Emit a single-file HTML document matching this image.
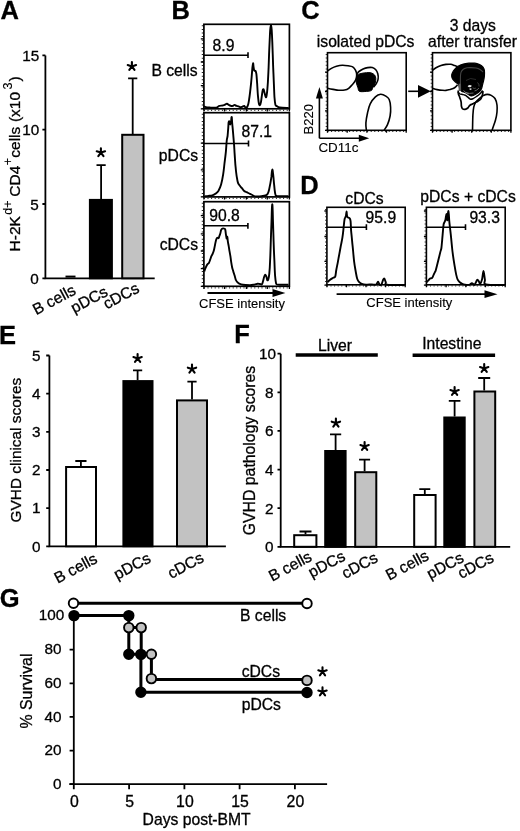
<!DOCTYPE html>
<html><head><meta charset="utf-8">
<style>html,body{margin:0;padding:0;background:#fff;width:520px;height:831px;overflow:hidden}svg{display:block;filter:grayscale(1)}text{font-family:"Liberation Sans",sans-serif;fill:#000;stroke:#000;stroke-width:0.3px;font-size:15.7px}.lb{font-weight:bold;font-size:25.5px}.st{font-weight:bold;font-size:27px;text-anchor:middle}.tk{font-size:15.3px;text-anchor:end}.sm{font-size:13px}</style></head><body>
<svg width="520" height="831" viewBox="0 0 520 831">
<rect width="520" height="831" fill="#fff"/>
<text x="0.5" y="19.0" class="lb">A</text>
<path d="M45.4 55.4V278.3H154.7" stroke="#000" stroke-width="1.8" fill="none"/>
<path d="M42.4 55.4H45.4M42.4 129.6H45.4M42.4 204H45.4M42.4 278.3H45.4" stroke="#000" stroke-width="1.8" fill="none"/>
<text class="tk" x="39.2" y="61.1">15</text>
<text class="tk" x="39.2" y="135.3">10</text>
<text class="tk" x="38.8" y="209.7">5</text>
<text class="tk" x="38.8" y="284.0">0</text>
<rect x="65.5" y="275.6" width="10" height="2" fill="#000"/>
<rect x="89.9" y="199.9" width="22.0" height="78.4" fill="#000" stroke="#000" stroke-width="2.0"/>
<rect x="122.2" y="134.8" width="21.3" height="143.5" fill="#c2c2c2" stroke="#000" stroke-width="2.0"/>
<path d="M101.1 199.0V165.2M96.5 165.2H105.7" stroke="#000" stroke-width="1.8" fill="none"/>
<path d="M132.7 134.0V78.3M128.1 78.3H137.3" stroke="#000" stroke-width="1.8" fill="none"/>
<path d="M100.90 152.62L100.90 148.22M100.90 152.62L105.08 151.26M100.90 152.62L103.49 156.18M100.90 152.62L98.31 156.18M100.90 152.62L96.72 151.26" stroke="#000" stroke-width="2.1" stroke-linecap="round" fill="none"/>
<path d="M131.90 66.42L131.90 62.02M131.90 66.42L136.08 65.06M131.90 66.42L134.49 69.98M131.90 66.42L129.31 69.98M131.90 66.42L127.72 65.06" stroke="#000" stroke-width="2.1" stroke-linecap="round" fill="none"/>
<text transform="translate(77.0,293.5) rotate(-28)" text-anchor="end">B cells</text>
<text transform="translate(109.0,295.0) rotate(-28)" text-anchor="end">pDCs</text>
<text transform="translate(140.5,291.5) rotate(-28)" text-anchor="end">cDCs</text>
<text transform="translate(20.2,251.4) rotate(-90)" style="font-size:15.5px">H-2K</text>
<text transform="translate(11.5,214.7) rotate(-90)" style="font-size:12.5px;stroke-width:0.12px">d+</text>
<text transform="translate(20.2,196.7) rotate(-90)" style="font-size:15.5px">CD4</text>
<text transform="translate(11.5,165.2) rotate(-90)" style="font-size:12.5px;stroke-width:0.12px">+</text>
<text transform="translate(20.2,157.7) rotate(-90)" style="font-size:15.5px">cells</text>
<text transform="translate(20.2,122.1) rotate(-90)" style="font-size:15.5px">(x10</text>
<text transform="translate(11.5,89.5) rotate(-90)" style="font-size:12.5px;stroke-width:0.12px">3</text>
<text transform="translate(20.2,81.4) rotate(-90)" style="font-size:15.5px">)</text>
<text x="171.6" y="18.8" class="lb">B</text>
<text x="197.6" y="75.8" text-anchor="end">B cells</text>
<text x="198.1" y="160.7" text-anchor="end">pDCs</text>
<text x="198.0" y="249.6" text-anchor="end">cDCs</text>
<rect x="203.9" y="24.3" width="85.5" height="84.5" fill="none" stroke="#000" stroke-width="1.7"/>
<path d="M200.8 38.9H203.9M200.8 62.0H203.9M200.8 85.7H203.9M200.8 108.8H203.9M203.9 108.8V111.4M224.5 108.8V111.4M246.4 108.8V111.4M267.3 108.8V111.4M289.4 108.8V111.4" stroke="#000" stroke-width="1.3" fill="none"/>
<path d="M202.4 25.3V108.8" stroke="#000" stroke-width="1.3" fill="none" stroke-dasharray="1 2.6" opacity="0.85"/>
<path d="M203.9 110.3H289.4" stroke="#000" stroke-width="1.3" fill="none" stroke-dasharray="1 2.6" opacity="0.85"/>
<rect x="203.9" y="112.7" width="85.5" height="84.2" fill="none" stroke="#000" stroke-width="1.7"/>
<path d="M200.8 143.1H203.9M200.8 169.9H203.9M200.8 196.9H203.9M203.9 196.9V199.5M224.5 196.9V199.5M246.4 196.9V199.5M267.3 196.9V199.5M289.4 196.9V199.5" stroke="#000" stroke-width="1.3" fill="none"/>
<path d="M202.4 113.7V196.9" stroke="#000" stroke-width="1.3" fill="none" stroke-dasharray="1 2.6" opacity="0.85"/>
<path d="M203.9 198.4H289.4" stroke="#000" stroke-width="1.3" fill="none" stroke-dasharray="1 2.6" opacity="0.85"/>
<rect x="203.9" y="201.7" width="85.5" height="84.6" fill="none" stroke="#000" stroke-width="1.7"/>
<path d="M200.8 215.7H203.9M200.8 233.9H203.9M200.8 251.0H203.9M200.8 268.7H203.9M200.8 286.3H203.9M203.9 286.3V288.9M224.5 286.3V288.9M246.4 286.3V288.9M267.3 286.3V288.9M289.4 286.3V288.9" stroke="#000" stroke-width="1.3" fill="none"/>
<path d="M202.4 202.7V286.3" stroke="#000" stroke-width="1.3" fill="none" stroke-dasharray="1 2.6" opacity="0.85"/>
<path d="M203.9 287.8H289.4" stroke="#000" stroke-width="1.3" fill="none" stroke-dasharray="1 2.6" opacity="0.85"/>
<path d="M203.9 55.2H248M248 52.3V58.1" stroke="#000" stroke-width="1.6" fill="none"/>
<path d="M203.9 143.5H248.5M248.5 140.6V146.4" stroke="#000" stroke-width="1.6" fill="none"/>
<path d="M203.9 225.8H247.9M247.9 222.9V228.7" stroke="#000" stroke-width="1.6" fill="none"/>
<text x="212.6" y="50.8">8.9</text>
<text x="241.5" y="136.7">87.1</text>
<text x="209.2" y="221.0">90.8</text>
<path d="M204.0 106.3 C204.3 106.4 204.9 106.9 205.8 107.1 C206.7 107.3 208.2 107.4 209.6 107.5 C211.0 107.6 213.1 107.8 214.4 107.8 C215.7 107.8 216.5 107.6 217.3 107.3 C218.1 107.0 218.2 106.2 219.2 105.9 C220.2 105.6 222.0 105.7 223.1 105.4 C224.2 105.2 224.9 104.7 225.5 104.4 C226.1 104.1 226.3 103.6 226.9 103.7 C227.5 103.8 228.2 104.5 228.8 104.9 C229.5 105.3 230.2 105.7 230.8 105.9 C231.5 106.1 232.1 106.1 232.7 105.9 C233.3 105.7 234.0 104.9 234.6 104.9 C235.2 104.9 235.8 105.7 236.5 105.9 C237.2 106.1 237.8 106.1 238.5 106.3 C239.2 106.5 239.8 107.2 240.4 107.3 C241.0 107.4 241.7 107.0 242.3 106.8 C242.9 106.6 243.6 105.7 244.2 105.9 C244.8 106.1 245.2 107.6 245.7 107.8 C246.2 108.0 246.8 107.5 247.2 106.9 C247.6 106.3 247.9 105.7 248.3 104.1 C248.7 102.5 249.0 100.1 249.4 97.5 C249.8 94.9 250.1 91.9 250.5 88.6 C250.9 85.3 251.3 81.0 251.6 77.5 C251.9 74.0 252.2 70.0 252.4 67.6 C252.7 65.2 252.9 63.4 253.1 63.2 C253.3 63.0 253.3 65.3 253.5 66.5 C253.7 67.7 253.9 69.7 254.2 70.4 C254.5 71.1 255.1 70.3 255.5 70.9 C255.9 71.5 256.1 72.0 256.4 74.2 C256.7 76.4 256.9 80.7 257.2 84.2 C257.4 87.7 257.6 92.2 257.9 95.3 C258.2 98.4 258.5 101.3 258.8 103.0 C259.1 104.7 259.5 105.4 259.9 105.2 C260.3 105.0 260.7 103.6 261.0 101.9 C261.3 100.2 261.6 97.2 261.9 95.3 C262.2 93.4 262.4 91.3 262.7 90.3 C263.0 89.3 263.2 88.9 263.5 89.2 C263.8 89.5 264.0 90.7 264.3 91.9 C264.6 93.1 265.2 95.6 265.5 96.4 C265.8 97.2 266.0 97.7 266.3 96.9 C266.6 96.2 266.8 94.4 267.1 91.9 C267.4 89.4 267.6 86.0 267.9 82.0 C268.1 78.0 268.4 72.4 268.6 67.6 C268.8 62.8 268.9 57.8 269.1 53.2 C269.3 48.6 269.5 43.8 269.7 39.9 C269.9 36.0 270.0 32.5 270.2 30.0 C270.4 27.5 270.8 25.0 271.0 25.0 C271.2 25.0 271.5 27.1 271.7 30.0 C271.9 32.9 272.1 36.8 272.3 42.1 C272.5 47.5 272.8 55.5 273.0 62.1 C273.2 68.8 273.6 76.1 273.8 82.0 C274.1 87.9 274.2 93.7 274.5 97.5 C274.8 101.3 275.0 103.2 275.4 104.7 C275.8 106.2 276.4 105.8 277.1 106.3 C277.8 106.8 277.9 107.1 279.8 107.4 C281.7 107.7 287.2 107.9 288.7 108.0" stroke="#000" stroke-width="1.9" fill="none" stroke-linejoin="round"/>
<path d="M204.6 196.4 C205.2 196.3 206.9 196.1 208.2 195.9 C209.5 195.7 211.1 195.7 212.3 195.3 C213.5 195.0 214.4 194.6 215.4 193.8 C216.4 193.0 217.6 192.2 218.5 190.7 C219.4 189.1 220.3 187.3 221.1 184.5 C221.9 181.7 222.6 177.9 223.2 174.1 C223.8 170.3 224.2 165.7 224.7 161.7 C225.2 157.7 225.7 153.9 226.0 150.3 C226.3 146.7 226.5 142.4 226.8 140.0 C227.1 137.6 227.4 137.7 227.6 135.8 C227.8 133.9 228.0 130.8 228.2 128.6 C228.4 126.4 228.4 123.6 228.6 122.4 C228.8 121.2 228.9 121.3 229.1 121.3 C229.3 121.3 229.5 121.9 229.7 122.4 C229.9 122.9 230.1 124.5 230.3 124.4 C230.5 124.3 230.8 122.8 231.0 121.8 C231.2 120.8 231.3 119.0 231.4 118.2 C231.5 117.4 231.7 116.3 231.8 117.2 C231.9 118.1 232.0 121.3 232.2 123.4 C232.4 125.5 232.6 127.2 232.8 129.6 C233.0 132.0 233.3 135.3 233.5 137.9 C233.7 140.5 233.9 142.5 234.1 145.1 C234.3 147.7 234.4 150.3 234.6 153.4 C234.8 156.5 235.1 160.7 235.3 163.8 C235.6 166.9 235.8 169.4 236.1 172.0 C236.4 174.6 236.8 177.4 237.2 179.3 C237.5 181.2 237.8 182.4 238.2 183.4 C238.6 184.4 239.2 184.8 239.7 185.5 C240.2 186.2 240.9 187.1 241.3 187.6 C241.7 188.1 241.9 188.1 242.3 188.6 C242.7 189.1 243.2 190.1 243.9 190.7 C244.6 191.3 245.5 191.7 246.5 192.2 C247.5 192.7 249.0 193.3 250.0 193.8 C251.0 194.3 251.5 194.6 252.3 195.0 C253.1 195.4 253.7 195.9 254.6 196.2 C255.5 196.4 256.6 196.5 257.7 196.5 C258.8 196.5 260.2 196.4 261.5 196.2 C262.8 196.0 264.4 195.9 265.4 195.5 C266.4 195.1 267.1 194.9 267.7 193.8 C268.3 192.8 268.8 191.0 269.2 189.2 C269.6 187.4 270.0 185.1 270.4 183.1 C270.8 181.1 271.1 178.8 271.4 176.9 C271.6 175.0 271.7 172.7 271.9 171.5 C272.1 170.3 272.3 169.5 272.5 169.6 C272.7 169.7 272.7 171.0 272.9 172.3 C273.1 173.7 273.3 175.5 273.5 177.7 C273.7 179.9 273.9 183.0 274.2 185.4 C274.4 187.8 274.7 190.6 275.0 192.3 C275.3 194.0 275.2 195.2 276.2 195.8 C277.2 196.5 278.8 196.1 280.8 196.2 C282.9 196.3 287.2 196.2 288.5 196.2" stroke="#000" stroke-width="1.9" fill="none" stroke-linejoin="round"/>
<path d="M204.3 271.4 C204.5 270.8 205.0 269.1 205.5 268.0 C206.0 266.9 206.6 265.5 207.2 264.6 C207.8 263.8 208.4 263.7 208.9 262.9 C209.4 262.1 209.8 260.7 210.2 259.6 C210.6 258.5 211.0 257.2 211.4 256.2 C211.8 255.2 212.3 254.7 212.7 253.7 C213.1 252.7 213.6 251.6 213.9 250.3 C214.2 249.0 214.5 247.5 214.8 246.1 C215.1 244.7 215.3 243.1 215.6 241.9 C215.9 240.7 216.2 239.6 216.5 238.9 C216.8 238.2 217.3 237.8 217.7 237.7 C218.0 237.6 218.3 238.4 218.6 238.1 C218.9 237.8 219.1 236.8 219.4 236.0 C219.7 235.2 220.0 234.5 220.3 233.5 C220.6 232.5 220.8 230.9 221.1 230.1 C221.4 229.3 221.6 229.1 221.9 228.8 C222.2 228.5 222.8 228.4 223.2 228.4 C223.6 228.4 224.2 228.6 224.5 228.8 C224.8 229.0 225.1 228.8 225.3 229.7 C225.5 230.6 225.7 232.8 225.9 234.3 C226.1 235.8 226.4 238.1 226.6 238.5 C226.8 238.9 227.1 236.4 227.3 236.8 C227.5 237.2 227.6 239.6 227.8 241.1 C228.0 242.6 228.4 244.4 228.7 246.1 C229.0 247.8 229.2 249.5 229.5 251.2 C229.8 252.9 230.1 254.4 230.4 256.2 C230.7 258.0 230.9 260.3 231.2 262.1 C231.5 263.9 231.8 265.6 232.1 267.2 C232.4 268.8 232.9 270.0 233.3 271.4 C233.7 272.8 234.2 274.2 234.6 275.6 C235.0 277.0 235.4 278.8 235.8 279.8 C236.2 280.9 236.5 281.3 237.1 281.9 C237.7 282.5 238.2 283.1 239.2 283.6 C240.2 284.1 241.2 284.6 243.0 284.8 C244.8 285.1 248.1 285.1 250.0 285.1 C251.9 285.1 253.0 284.8 254.3 284.6 C255.6 284.4 256.7 283.8 257.6 283.7 C258.5 283.6 259.1 283.9 259.8 284.0 C260.5 284.1 261.4 284.8 261.9 284.3 C262.4 283.9 262.6 282.5 263.0 281.3 C263.4 280.1 263.7 278.1 264.1 277.0 C264.5 275.9 264.8 274.7 265.2 274.6 C265.6 274.5 265.9 275.5 266.3 276.4 C266.7 277.3 267.0 279.8 267.3 280.2 C267.6 280.6 268.1 280.2 268.4 279.1 C268.7 278.0 269.0 276.8 269.3 273.7 C269.6 270.6 269.9 266.1 270.1 260.7 C270.4 255.3 270.6 247.7 270.8 241.2 C271.0 234.7 271.3 227.5 271.5 221.7 C271.7 215.9 271.8 209.1 272.0 206.5 C272.2 203.9 272.3 203.5 272.5 206.0 C272.7 208.5 272.8 215.8 273.0 221.7 C273.2 227.6 273.4 234.7 273.6 241.2 C273.8 247.7 274.1 254.9 274.4 260.7 C274.6 266.5 274.8 272.2 275.1 275.9 C275.4 279.6 275.6 281.4 276.0 282.9 C276.4 284.3 275.5 284.3 277.6 284.6 C279.7 284.9 286.7 284.8 288.5 284.8" stroke="#000" stroke-width="1.9" fill="none" stroke-linejoin="round"/>
<path d="M207.5 293H276" stroke="#000" stroke-width="1.8" fill="none"/>
<path d="M285.4 293L272.5 289V297Z" fill="#000"/>
<text x="199.0" y="308.0" style="font-size:13px;stroke-width:0.12px">CFSE intensity</text>
<text x="301.3" y="18.8" class="lb">C</text>
<text x="316.8" y="47.0">isolated pDCs</text>
<text x="449.7" y="31.4">3 days</text>
<text x="428.1" y="46.8">after transfer</text>
<rect x="327.5" y="52.7" width="78.7" height="77.6" fill="none" stroke="#000" stroke-width="1.6"/>
<rect x="432.5" y="52.7" width="78.4" height="77.6" fill="none" stroke="#000" stroke-width="1.6"/>
<path d="M325.0 130.3H327.5M325.0 110.9H327.5M325.0 91.5H327.5M325.0 72.1H327.5M327.5 130.3V132.8M347.2 130.3V132.8M366.9 130.3V132.8M386.5 130.3V132.8M406.2 130.3V132.8" stroke="#000" stroke-width="1.3" fill="none"/>
<path d="M326.3 54V130.3" stroke="#000" stroke-width="1.2" fill="none" stroke-dasharray="1 2.6" opacity="0.85"/>
<path d="M327.5 131.5H406.2" stroke="#000" stroke-width="1.2" fill="none" stroke-dasharray="1 2.6" opacity="0.85"/>
<path d="M430.0 130.3H432.5M430.0 110.9H432.5M430.0 91.5H432.5M430.0 72.1H432.5M432.5 130.3V132.8M452.1 130.3V132.8M471.7 130.3V132.8M491.3 130.3V132.8M510.9 130.3V132.8" stroke="#000" stroke-width="1.3" fill="none"/>
<path d="M431.3 54V130.3" stroke="#000" stroke-width="1.2" fill="none" stroke-dasharray="1 2.6" opacity="0.85"/>
<path d="M432.5 131.5H510.9" stroke="#000" stroke-width="1.2" fill="none" stroke-dasharray="1 2.6" opacity="0.85"/>
<path d="M319.4 138.3V97M319.4 138.3H360" stroke="#000" stroke-width="1.6" fill="none"/>
<path d="M319.4 86.9L315.9 98.5H322.9Z" fill="#000"/>
<path d="M369.2 138.3L358.8 134.8V141.8Z" fill="#000"/>
<text transform="translate(313.1,134.5) rotate(-90)" style="font-size:13px;stroke-width:0.12px">B220</text>
<text x="318.4" y="151.9" style="font-size:13.4px;stroke-width:0.12px">CD11c</text>
<path d="M408.2 91.3H420" stroke="#000" stroke-width="1.6" fill="none"/>
<path d="M430.8 91.3L418 84.9V97.7Z" fill="#000"/>
<path d="M327.5 71.0 C328.2 70.5 330.4 68.9 331.9 68.1 C333.4 67.3 334.8 66.8 336.5 66.3 C338.2 65.8 340.4 65.3 342.3 65.2 C344.2 65.1 346.4 65.5 348.1 65.8 C349.8 66.1 351.4 66.1 352.7 66.9 C353.9 67.7 354.9 69.1 355.6 70.4 C356.3 71.8 356.7 73.4 356.7 75.0 C356.7 76.6 356.3 78.7 355.6 80.2 C354.9 81.7 353.9 82.9 352.7 84.2 C351.5 85.5 350.0 87.3 348.7 88.3 C347.4 89.3 346.2 89.7 344.6 90.0 C343.0 90.3 340.7 90.3 338.8 90.2 C336.9 90.1 335.0 89.7 333.1 89.4 C331.2 89.1 328.4 88.5 327.5 88.3" stroke="#000" stroke-width="1.6" fill="none" stroke-linejoin="round"/>
<path d="M356.7 76.0 C356.8 75.6 357.1 74.2 357.5 73.4 C357.9 72.7 358.1 72.2 359.0 71.5 C359.9 70.8 361.7 69.7 363.1 69.0 C364.6 68.3 366.2 67.8 367.7 67.6 C369.2 67.4 370.9 67.2 372.3 67.6 C373.7 68.0 374.9 68.8 375.8 69.8 C376.7 70.8 377.4 72.3 377.8 73.8 C378.2 75.3 378.4 77.3 378.1 79.0 C377.9 80.7 377.1 82.4 376.3 83.7 C375.5 85.0 374.0 86.5 373.5 87.1" stroke="#000" stroke-width="1.6" fill="none" stroke-linejoin="round"/>
<path d="M356.7 76.7 C357.1 75.9 357.6 75.0 358.5 74.4 C359.4 73.8 360.6 73.6 361.9 73.3 C363.2 73.0 364.9 72.8 366.5 72.7 C368.1 72.6 369.8 72.5 371.2 72.9 C372.6 73.3 373.8 74.1 374.6 75.0 C375.4 75.9 375.7 77.2 375.8 78.5 C375.9 79.8 375.7 81.6 375.2 83.1 C374.7 84.6 373.6 86.5 372.9 87.7 C372.2 89.0 372.3 90.0 371.2 90.6 C370.1 91.2 368.4 91.3 366.5 91.4 C364.6 91.5 361.0 92.0 359.6 91.4 C358.2 90.8 358.4 89.1 357.9 87.7 C357.4 86.3 356.7 84.5 356.4 83.1 C356.1 81.6 356.1 80.1 356.2 79.0 C356.2 77.9 356.3 77.5 356.7 76.7 Z" stroke="#000" stroke-width="1" fill="#000" stroke-linejoin="round"/>
<path d="M366.4 130.3 C366.3 129.1 365.7 125.9 365.9 122.9 C366.1 119.9 366.9 115.7 367.6 112.5 C368.3 109.3 368.9 106.4 370.2 103.8 C371.5 101.2 373.7 98.5 375.4 96.9 C377.1 95.3 378.9 94.4 380.6 94.3 C382.3 94.2 384.4 95.2 385.8 96.1 C387.2 97.0 388.4 97.6 389.2 99.5 C390.0 101.4 390.5 104.5 390.6 107.3 C390.8 110.0 390.6 113.1 390.1 116.0 C389.6 118.9 388.5 122.2 387.5 124.6 C386.5 127.0 384.6 129.4 384.0 130.3" stroke="#000" stroke-width="1.6" fill="none" stroke-linejoin="round"/>
<path d="M432.5 70.4 C433.1 70.0 434.6 68.6 436.0 67.8 C437.4 67.0 439.3 66.1 441.0 65.5 C442.7 64.9 444.4 64.6 446.0 64.4 C447.6 64.2 449.4 64.1 450.8 64.3 C452.2 64.5 453.5 65.2 454.6 65.6 C455.7 66.0 457.0 66.3 457.5 66.5" stroke="#000" stroke-width="1.6" fill="none" stroke-linejoin="round"/>
<path d="M432.5 88.4 C433.2 88.6 435.4 89.3 437.0 89.6 C438.6 89.9 440.5 90.2 442.0 90.3 C443.5 90.4 444.7 90.5 446.0 90.4 C447.3 90.3 448.4 90.0 449.8 89.6 C451.2 89.1 453.3 88.5 454.6 87.7 C455.9 86.9 457.0 85.3 457.5 84.8" stroke="#000" stroke-width="1.6" fill="none" stroke-linejoin="round"/>
<path d="M472.5 130.3 C472.6 127.8 472.7 118.9 472.9 115.0 C473.1 111.1 473.3 109.1 473.8 106.9 C474.3 104.8 474.8 103.5 475.8 102.1 C476.8 100.7 478.3 99.4 479.6 98.3 C480.9 97.2 482.2 96.1 483.5 95.4 C484.8 94.8 486.0 94.4 487.3 94.4 C488.6 94.4 489.9 94.7 491.2 95.4 C492.5 96.1 494.0 96.9 495.0 98.5 C496.0 100.1 496.7 102.8 497.0 105.0 C497.3 107.2 497.2 109.5 497.0 112.0 C496.8 114.5 496.1 117.7 495.5 120.0 C494.9 122.3 494.1 124.3 493.5 126.0 C492.9 127.7 492.3 129.6 492.1 130.3" stroke="#000" stroke-width="1.6" fill="none" stroke-linejoin="round"/>
<path d="M458.2 90.5 C458.2 91.0 458.1 92.7 458.4 93.8 C458.6 94.9 459.2 95.8 459.7 97.2 C460.1 98.6 460.8 100.4 461.1 101.9 C461.4 103.4 461.2 104.9 461.4 106.0 C461.6 107.1 461.8 108.0 462.4 108.6 C463.0 109.1 464.2 109.4 465.1 109.3 C466.0 109.2 467.0 108.7 467.8 108.0 C468.6 107.3 469.0 106.0 469.8 105.3 C470.6 104.6 471.6 104.4 472.5 103.9 C473.4 103.5 474.3 103.0 475.2 102.6 C476.1 102.1 477.0 101.8 477.9 101.2 C478.8 100.6 479.9 100.0 480.6 99.2 C481.3 98.4 481.6 97.3 481.9 96.5 C482.2 95.7 482.4 95.4 482.6 94.5 C482.8 93.6 482.9 91.6 483.0 91.0" stroke="#000" stroke-width="1.7" fill="none" stroke-linejoin="round"/>
<path d="M458.0 91.8 C458.3 92.1 459.0 93.3 459.7 93.8 C460.4 94.2 461.5 94.3 462.4 94.5 C463.3 94.7 464.2 94.8 465.1 95.2 C466.0 95.7 466.9 96.5 467.8 97.2 C468.7 97.9 469.6 99.0 470.5 99.2 C471.4 99.4 472.2 99.0 473.2 98.6 C474.2 98.1 475.5 97.2 476.5 96.5 C477.5 95.8 478.4 95.2 479.2 94.5 C480.0 93.8 480.6 93.2 481.2 92.5 C481.8 91.8 482.4 90.8 482.6 90.5" stroke="#000" stroke-width="1.5" fill="none" stroke-linejoin="round"/>
<path d="M451.7 76.2 C451.6 75.2 451.7 74.4 452.2 73.3 C452.7 72.2 453.6 70.6 454.6 69.4 C455.7 68.2 457.1 67.0 458.5 66.1 C459.9 65.2 461.6 64.6 463.3 64.1 C465.1 63.6 467.1 63.4 469.0 63.2 C470.9 63.1 473.0 63.0 474.8 63.2 C476.6 63.4 478.2 64.0 479.6 64.6 C481.0 65.2 482.2 66.0 483.0 67.0 C483.8 68.0 484.2 68.9 484.4 70.4 C484.6 71.9 484.5 74.4 484.4 76.2 C484.2 78.0 483.9 79.4 483.5 81.0 C483.1 82.6 482.6 84.5 482.3 85.8 C482.0 87.0 482.0 87.6 481.6 88.5 C481.2 89.4 480.6 90.4 479.9 91.2 C479.2 92.0 478.2 92.5 477.2 93.2 C476.2 93.9 474.8 94.8 473.8 95.2 C472.8 95.7 472.1 96.0 471.2 95.9 C470.3 95.8 469.5 95.1 468.5 94.5 C467.5 93.9 466.2 93.0 465.1 92.5 C464.0 92.0 462.6 91.9 461.7 91.2 C460.8 90.5 460.2 89.6 459.7 88.5 C459.2 87.4 459.2 85.6 458.5 84.5 C457.8 83.4 456.5 82.9 455.5 82.0 C454.5 81.1 453.2 80.0 452.6 79.0 C452.0 78.0 451.8 77.2 451.7 76.2 Z" stroke="#000" stroke-width="1.2" fill="#000" stroke-linejoin="round"/>
<path d="M460.6 90.0 C460.6 88.3 460.4 82.8 460.4 80.0 C460.4 77.2 460.4 74.8 460.8 73.0 C461.2 71.2 462.0 70.4 463.0 69.5 C464.0 68.6 465.7 68.1 467.0 67.8 C468.3 67.5 469.5 67.6 471.0 67.6 C472.5 67.6 474.5 67.7 476.0 68.0 C477.5 68.3 478.8 68.8 480.0 69.5 C481.2 70.2 482.5 71.6 483.0 72.0" stroke="#444" stroke-width="1.1" fill="none" stroke-linejoin="round"/>
<rect x="458.6" y="83.7" width="2.2" height="7.3" fill="#5a5a5a"/>
<path d="M467.6 86.2q2-2 4.2 -0.4q-0.6 1.6-2.2 1.5q-1.2 0-2-1.1Z" fill="#e8e8e8"/>
<path d="M469.2 88.7q1.4-0.9 2.6 0q-0.4 1.3-1.3 1.4q-0.9-0.2-1.3-1.4Z" fill="#d8d8d8"/>
<path d="M463.5 90.5q2 2.5 5.5 3.5" stroke="#8a8a8a" stroke-width="0.8" fill="none"/>
<path d="M474.5 91q2.5 -0.5 4.5 -3" stroke="#7a7a7a" stroke-width="0.8" fill="none"/>
<path d="M466 80.5q4 -3.5 10 -1" stroke="#3a3a3a" stroke-width="0.7" fill="none"/>
<path d="M465.5 92.5q4 1.5 8 0.5" stroke="#9a9a9a" stroke-width="0.7" fill="none"/>
<path d="M472.6 87.8q1.5 1.2 3.2 0.3" stroke="#6a6a6a" stroke-width="0.7" fill="none"/>
<path d="M477.5 82.5q1.8 1.5 1.6 4" stroke="#5a5a5a" stroke-width="0.7" fill="none"/>
<text x="300.2" y="193.8" class="lb">D</text>
<text x="345.3" y="203.6">cDCs</text>
<text x="420.3" y="201.5">pDCs + cDCs</text>
<rect x="326.9" y="207.3" width="78.3" height="77.5" fill="none" stroke="#000" stroke-width="1.6"/>
<path d="M324.4 285.1H326.9M324.4 261.4H326.9M324.4 236.5H326.9M324.4 211.0H326.9M326.9 284.8V287.3M346.5 284.8V287.3M366.0 284.8V287.3M385.6 284.8V287.3M405.2 284.8V287.3" stroke="#000" stroke-width="1.3" fill="none"/>
<path d="M325.7 209V284.8" stroke="#000" stroke-width="1.2" fill="none" stroke-dasharray="1 2.6" opacity="0.85"/>
<path d="M326.9 286H405.2" stroke="#000" stroke-width="1.2" fill="none" stroke-dasharray="1 2.6" opacity="0.85"/>
<rect x="426.4" y="207.3" width="78.8" height="77.5" fill="none" stroke="#000" stroke-width="1.6"/>
<path d="M423.9 285.1H426.4M423.9 261.4H426.4M423.9 236.5H426.4M423.9 211.0H426.4M426.4 284.8V287.3M446.1 284.8V287.3M465.8 284.8V287.3M485.5 284.8V287.3M505.2 284.8V287.3" stroke="#000" stroke-width="1.3" fill="none"/>
<path d="M425.2 209V284.8" stroke="#000" stroke-width="1.2" fill="none" stroke-dasharray="1 2.6" opacity="0.85"/>
<path d="M426.4 286H505.2" stroke="#000" stroke-width="1.2" fill="none" stroke-dasharray="1 2.6" opacity="0.85"/>
<path d="M326.9 227.2H366.4M366.4 224.3V230.1" stroke="#000" stroke-width="1.6" fill="none"/>
<path d="M426.4 227.2H465.5M465.5 224.3V230.1" stroke="#000" stroke-width="1.6" fill="none"/>
<text x="365.6" y="223.4">95.9</text>
<text x="469.4" y="223.4">93.3</text>
<path d="M327.5 282.2 C327.9 281.8 329.2 280.4 330.1 279.7 C331.1 279.0 332.4 278.3 333.2 277.8 C334.0 277.3 334.7 277.8 335.2 276.6 C335.7 275.4 335.8 272.9 336.2 270.5 C336.6 268.1 337.3 265.0 337.8 262.3 C338.3 259.6 338.8 256.8 339.3 254.1 C339.8 251.4 340.3 248.6 340.8 245.9 C341.3 243.2 342.0 240.4 342.4 237.7 C342.8 235.0 343.1 232.5 343.4 229.6 C343.7 226.7 344.1 222.4 344.4 220.3 C344.7 218.2 344.9 218.0 345.2 217.3 C345.4 216.6 345.7 217.2 345.9 216.3 C346.1 215.4 346.3 211.7 346.5 211.6 C346.7 211.5 346.8 214.8 347.0 215.7 C347.2 216.6 347.4 217.0 347.7 217.3 C348.0 217.7 348.4 217.6 348.7 217.8 C349.0 218.0 349.4 217.7 349.7 218.3 C350.0 218.9 350.4 219.4 350.6 221.4 C350.8 223.4 350.9 227.4 351.1 230.6 C351.4 233.8 351.8 237.4 352.1 240.8 C352.4 244.2 352.8 247.6 353.1 251.0 C353.4 254.4 353.7 257.9 354.1 261.3 C354.5 264.7 355.2 268.6 355.7 271.5 C356.2 274.4 356.6 276.9 357.2 278.7 C357.8 280.5 358.4 281.3 359.2 282.2 C360.0 283.1 360.7 283.4 361.8 283.8 C362.9 284.2 364.3 284.5 366.0 284.6 C367.7 284.7 370.2 284.5 371.9 284.5 C373.6 284.5 375.2 285.0 376.2 284.5 C377.2 284.0 377.4 281.6 378.0 281.7 C378.6 281.8 379.1 284.3 379.7 284.8 C380.3 285.3 380.8 285.4 381.4 284.5 C382.0 283.6 382.7 280.6 383.2 279.6 C383.7 278.6 384.0 278.3 384.4 278.7 C384.8 279.1 385.3 281.2 385.8 282.2 C386.3 283.2 384.0 284.3 387.2 284.8 C390.4 285.3 401.9 285.1 404.8 285.1" stroke="#000" stroke-width="1.9" fill="none" stroke-linejoin="round"/>
<path d="M426.5 282.2 C426.8 281.9 427.5 281.3 428.1 280.7 C428.7 280.1 429.4 279.0 430.1 278.5 C430.8 278.0 431.6 278.4 432.2 277.8 C432.8 277.2 433.3 275.5 433.7 274.6 C434.1 273.7 434.4 273.2 434.7 272.5 C435.0 271.8 435.3 271.9 435.7 270.5 C436.1 269.1 436.8 266.4 437.3 264.3 C437.8 262.2 438.3 260.2 438.8 258.2 C439.3 256.2 439.9 253.8 440.3 252.1 C440.7 250.4 441.1 250.1 441.4 248.0 C441.7 245.9 441.9 242.5 442.2 239.8 C442.4 237.1 442.7 234.2 442.9 231.6 C443.1 229.0 443.4 225.9 443.6 224.4 C443.9 222.9 444.1 223.1 444.4 222.4 C444.7 221.7 445.0 221.3 445.3 220.3 C445.6 219.3 445.8 217.3 446.0 216.3 C446.2 215.3 446.5 213.5 446.7 214.2 C446.9 214.9 447.1 220.1 447.3 220.3 C447.5 220.5 447.5 216.7 447.7 215.2 C447.9 213.7 448.1 211.3 448.3 211.1 C448.5 210.9 448.6 212.5 448.8 214.2 C449.0 215.9 449.1 219.0 449.3 221.4 C449.5 223.8 449.8 225.8 450.1 228.5 C450.4 231.2 450.8 234.4 451.1 237.7 C451.4 240.9 451.8 244.9 452.1 248.0 C452.4 251.1 452.7 253.1 453.1 256.2 C453.5 259.3 454.2 263.3 454.7 266.4 C455.2 269.5 455.7 272.4 456.2 274.6 C456.7 276.8 457.1 278.4 457.7 279.7 C458.3 281.0 459.0 281.5 459.8 282.2 C460.6 282.9 461.4 283.4 462.3 283.8 C463.2 284.2 463.8 284.4 465.0 284.6 C466.2 284.8 468.2 285.1 469.3 284.8 C470.4 284.6 471.0 283.1 471.9 283.1 C472.8 283.1 473.6 285.3 474.5 284.8 C475.4 284.3 476.4 280.6 477.1 280.0 C477.8 279.4 478.3 280.7 478.8 281.3 C479.3 281.9 479.7 284.2 480.2 283.9 C480.7 283.6 481.4 281.8 482.0 279.6 C482.6 277.5 483.0 271.0 483.5 271.0 C484.0 271.0 484.5 277.4 484.9 279.6 C485.3 281.9 482.8 283.6 486.1 284.5 C489.4 285.4 501.7 285.0 504.8 285.1" stroke="#000" stroke-width="1.9" fill="none" stroke-linejoin="round"/>
<path d="M336.6 294.2H487" stroke="#000" stroke-width="1.8" fill="none"/>
<path d="M497.5 294.2L484.5 290.3V298.1Z" fill="#000"/>
<text x="366.3" y="306.8" style="font-size:13px;stroke-width:0.12px">CFSE intensity</text>
<text x="-1.0" y="343.8" class="lb">E</text>
<path d="M49.4 355.5V546.3H225.9" stroke="#000" stroke-width="1.8" fill="none"/>
<text class="tk" x="40.6" y="551.5">0</text>
<text class="tk" x="40.6" y="513.3">1</text>
<text class="tk" x="40.6" y="475.2">2</text>
<text class="tk" x="40.6" y="437.0">3</text>
<text class="tk" x="40.6" y="398.9">4</text>
<text class="tk" x="40.6" y="360.7">5</text>
<path d="M46.2 546.3H49.4M46.2 508.1H49.4M46.2 470.0H49.4M46.2 431.8H49.4M46.2 393.7H49.4M46.2 355.5H49.4" stroke="#000" stroke-width="1.8" fill="none"/>
<rect x="66.1" y="467.0" width="29.9" height="79.3" fill="#fff" stroke="#000" stroke-width="2.0"/>
<rect x="123.4" y="381.1" width="29.1" height="165.2" fill="#000" stroke="#000" stroke-width="2.0"/>
<rect x="177.0" y="400.4" width="30.0" height="145.9" fill="#c2c2c2" stroke="#000" stroke-width="2.0"/>
<path d="M80.9 466.0V461.0M75.3 461.0H86.5" stroke="#000" stroke-width="1.8" fill="none"/>
<path d="M137.6 380.0V370.4M133.0 370.4H142.2" stroke="#000" stroke-width="1.8" fill="none"/>
<path d="M192.0 399.5V381.6M187.4 381.6H196.6" stroke="#000" stroke-width="1.8" fill="none"/>
<path d="M137.60 358.42L137.60 354.02M137.60 358.42L141.78 357.06M137.60 358.42L140.19 361.98M137.60 358.42L135.01 361.98M137.60 358.42L133.42 357.06" stroke="#000" stroke-width="2.1" stroke-linecap="round" fill="none"/>
<path d="M192.00 369.02L192.00 364.62M192.00 369.02L196.18 367.66M192.00 369.02L194.59 372.58M192.00 369.02L189.41 372.58M192.00 369.02L187.82 367.66" stroke="#000" stroke-width="2.1" stroke-linecap="round" fill="none"/>
<text transform="translate(98.5,562.0) rotate(-28)" text-anchor="end">B cells</text>
<text transform="translate(152.0,561.5) rotate(-28)" text-anchor="end">pDCs</text>
<text transform="translate(205.0,561.0) rotate(-28)" text-anchor="end">cDCs</text>
<text transform="translate(21.2,522.4) rotate(-90)" style="font-size:15.4px">GVHD clinical scores</text>
<text x="234.2" y="342.6" class="lb">F</text>
<path d="M280.7 353.7V546.8H510.2" stroke="#000" stroke-width="1.8" fill="none"/>
<text class="tk" x="273.6" y="552.1">0</text>
<text class="tk" x="273.6" y="513.5">2</text>
<text class="tk" x="273.6" y="474.9">4</text>
<text class="tk" x="273.6" y="436.2">6</text>
<text class="tk" x="273.6" y="397.6">8</text>
<text class="tk" x="275.9" y="359.0">10</text>
<path d="M277.5 546.8H280.7M277.5 508.2H280.7M277.5 469.6H280.7M277.5 430.9H280.7M277.5 392.3H280.7M277.5 353.7H280.7" stroke="#000" stroke-width="1.8" fill="none"/>
<path d="M295.7 355.1H377.8" stroke="#000" stroke-width="3.5" fill="none"/>
<path d="M412.6 355.2H495.1" stroke="#000" stroke-width="3.5" fill="none"/>
<text x="318.0" y="350.8">Liver</text>
<text x="422.2" y="349.3">Intestine</text>
<rect x="294.2" y="535.2" width="22.2" height="11.6" fill="#fff" stroke="#000" stroke-width="2.0"/>
<rect x="325.2" y="451.0" width="20.4" height="95.8" fill="#000" stroke="#000" stroke-width="2.0"/>
<rect x="355.2" y="472.2" width="21.1" height="74.6" fill="#c2c2c2" stroke="#000" stroke-width="2.0"/>
<rect x="414.2" y="495.0" width="21.4" height="51.8" fill="#fff" stroke="#000" stroke-width="2.0"/>
<rect x="444.3" y="417.5" width="20.4" height="129.3" fill="#000" stroke="#000" stroke-width="2.0"/>
<rect x="474.4" y="391.5" width="20.8" height="155.3" fill="#c2c2c2" stroke="#000" stroke-width="2.0"/>
<path d="M305.5 534.2V531.5M299.5 531.5H311.5" stroke="#000" stroke-width="1.8" fill="none"/>
<path d="M335.6 450.0V434.4M330.0 434.4H341.2" stroke="#000" stroke-width="1.8" fill="none"/>
<path d="M364.6 471.2V459.7M359.1 459.7H370.1" stroke="#000" stroke-width="1.8" fill="none"/>
<path d="M424.8 494.0V489.1M419.3 489.1H430.3" stroke="#000" stroke-width="1.8" fill="none"/>
<path d="M454.6 416.5V400.9M448.8 400.9H460.4" stroke="#000" stroke-width="1.8" fill="none"/>
<path d="M484.2 390.5V378.0M478.2 378.0H490.2" stroke="#000" stroke-width="1.8" fill="none"/>
<path d="M335.90 423.02L335.90 418.62M335.90 423.02L340.08 421.66M335.90 423.02L338.49 426.58M335.90 423.02L333.31 426.58M335.90 423.02L331.72 421.66" stroke="#000" stroke-width="2.1" stroke-linecap="round" fill="none"/>
<path d="M364.60 446.42L364.60 442.02M364.60 446.42L368.78 445.06M364.60 446.42L367.19 449.98M364.60 446.42L362.01 449.98M364.60 446.42L360.42 445.06" stroke="#000" stroke-width="2.1" stroke-linecap="round" fill="none"/>
<path d="M454.60 391.42L454.60 387.02M454.60 391.42L458.78 390.06M454.60 391.42L457.19 394.98M454.60 391.42L452.01 394.98M454.60 391.42L450.42 390.06" stroke="#000" stroke-width="2.1" stroke-linecap="round" fill="none"/>
<path d="M484.20 368.42L484.20 364.02M484.20 368.42L488.38 367.06M484.20 368.42L486.79 371.98M484.20 368.42L481.61 371.98M484.20 368.42L480.02 367.06" stroke="#000" stroke-width="2.1" stroke-linecap="round" fill="none"/>
<text transform="translate(313.0,560.0) rotate(-28)" text-anchor="end">B cells</text>
<text transform="translate(346.5,559.5) rotate(-28)" text-anchor="end">pDCs</text>
<text transform="translate(379.0,561.0) rotate(-28)" text-anchor="end">cDCs</text>
<text transform="translate(430.0,559.0) rotate(-28)" text-anchor="end">B cells</text>
<text transform="translate(465.0,561.0) rotate(-28)" text-anchor="end">pDCs</text>
<text transform="translate(495.0,561.0) rotate(-28)" text-anchor="end">cDCs</text>
<text transform="translate(254.9,535.2) rotate(-90)" style="font-size:15.8px">GVHD pathology scores</text>
<text x="-0.2" y="606.8" class="lb">G</text>
<path d="M73.8 616V784.2M69.4 784.2H327.1" stroke="#000" stroke-width="1.8" fill="none"/>
<text class="tk" x="61.6" y="788.8">0</text>
<text class="tk" x="61.6" y="755.2">20</text>
<text class="tk" x="61.6" y="721.5">40</text>
<text class="tk" x="61.6" y="687.9">60</text>
<text class="tk" x="61.6" y="654.2">80</text>
<text class="tk" x="64.2" y="619.8">100</text>
<text x="74.3" y="806.6" class="tk" style="text-anchor:middle;font-size:15.8px">0</text>
<text x="129.6" y="806.6" class="tk" style="text-anchor:middle;font-size:15.8px">5</text>
<text x="184.9" y="806.6" class="tk" style="text-anchor:middle;font-size:15.8px">10</text>
<text x="240.1" y="806.6" class="tk" style="text-anchor:middle;font-size:15.8px">15</text>
<text x="295.4" y="806.6" class="tk" style="text-anchor:middle;font-size:15.8px">20</text>
<path d="M69.6 784.2H73.8M69.6 750.6H73.8M69.6 716.9H73.8M69.6 683.3H73.8M69.6 649.6H73.8M69.6 616.0H73.8M73.8 784.2V789.3M129.1 784.2V789.3M184.4 784.2V789.3M239.6 784.2V789.3M294.9 784.2V789.3" stroke="#000" stroke-width="1.8" fill="none"/>
<text transform="translate(31.5,728.6) rotate(-90)" style="font-size:15.9px">% Survival</text>
<text x="142.6" y="825.1">Days post-BMT</text>
<path d="M73.5 603.2H307" stroke="#000" stroke-width="3" fill="none"/>
<path d="M74 615.6H128.8V654.2H140.9V692.3H307" stroke="#000" stroke-width="3" fill="none"/>
<path d="M128.8 627.6H141.2V654.4H151.4V679.5H307" stroke="#000" stroke-width="3" fill="none"/>
<circle cx="73.5" cy="603.2" r="4.75" fill="#fff" stroke="#000" stroke-width="1.9"/>
<circle cx="74.0" cy="615.6" r="4.75" fill="#000" stroke="#000" stroke-width="1.9"/>
<circle cx="128.8" cy="615.6" r="4.75" fill="#000" stroke="#000" stroke-width="1.9"/>
<circle cx="128.8" cy="627.6" r="4.75" fill="#c2c2c2" stroke="#000" stroke-width="1.9"/>
<circle cx="141.2" cy="627.6" r="4.75" fill="#c2c2c2" stroke="#000" stroke-width="1.9"/>
<circle cx="128.8" cy="654.2" r="4.75" fill="#000" stroke="#000" stroke-width="1.9"/>
<circle cx="151.4" cy="654.2" r="4.75" fill="#c2c2c2" stroke="#000" stroke-width="1.9"/>
<circle cx="140.9" cy="654.4" r="4.75" fill="#000" stroke="#000" stroke-width="1.9"/>
<circle cx="151.4" cy="678.6" r="4.75" fill="#c2c2c2" stroke="#000" stroke-width="1.9"/>
<circle cx="140.9" cy="692.3" r="4.75" fill="#000" stroke="#000" stroke-width="1.9"/>
<circle cx="307.0" cy="603.5" r="4.75" fill="#fff" stroke="#000" stroke-width="1.9"/>
<circle cx="307.0" cy="680.4" r="4.75" fill="#c2c2c2" stroke="#000" stroke-width="1.9"/>
<circle cx="307.0" cy="692.5" r="4.75" fill="#000" stroke="#000" stroke-width="1.9"/>
<text x="240.0" y="620.8">B cells</text>
<text x="241.7" y="676.9">cDCs</text>
<text x="241.7" y="710.3">pDCs</text>
<path d="M322.50 671.72L322.50 667.32M322.50 671.72L326.68 670.36M322.50 671.72L325.09 675.28M322.50 671.72L319.91 675.28M322.50 671.72L318.32 670.36" stroke="#000" stroke-width="2.1" stroke-linecap="round" fill="none"/>
<path d="M322.50 691.82L322.50 687.42M322.50 691.82L326.68 690.46M322.50 691.82L325.09 695.38M322.50 691.82L319.91 695.38M322.50 691.82L318.32 690.46" stroke="#000" stroke-width="2.1" stroke-linecap="round" fill="none"/>
</svg></body></html>
